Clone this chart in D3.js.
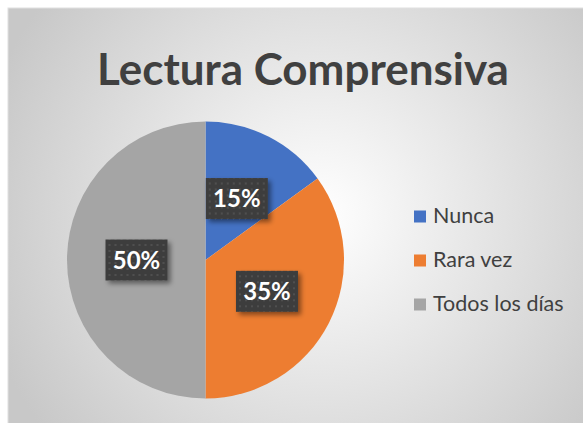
<!DOCTYPE html>
<html>
<head>
<meta charset="utf-8">
<script src="https://cdn.jsdelivr.net/npm/d3@7/dist/d3.min.js"></script>
<style>
  html, body { margin: 0; padding: 0; background: #fff; }
  svg { display: block; }
</style>
</head>
<body>
<svg class="chart"></svg>
<script>
var categories = ["Nunca", "Rara vez", "Todos los días"];
var values = [15, 35, 50];
var colors = ["#4472C4", "#ED7D31", "#A5A5A5"];
var title = "Lectura Comprensiva";

var frameWidth = 583;
var frameHeight = 423;
var boxX = 8, boxY = 8;
var cx = 205.5, cy = 260, radius = 138.5;
var labelRadius = 69;

var svg = d3.select(".chart")
  .attr("width", frameWidth)
  .attr("height", frameHeight)
  .style("font-family", "Lato, 'Open Sans', sans-serif");

var defs = svg.append("defs");

// background gradient
var grad = defs.append("radialGradient")
  .attr("id", "bg")
  .attr("gradientUnits", "userSpaceOnUse")
  .attr("cx", 320).attr("cy", 215).attr("r", 350);
grad.append("stop").attr("offset", "0%").attr("stop-color", "#ffffff");
grad.append("stop").attr("offset", "100%").attr("stop-color", "#c8c8c8");

// dotted pattern for the label boxes
var pat = defs.append("pattern")
  .attr("id", "dots")
  .attr("patternUnits", "userSpaceOnUse")
  .attr("width", 6).attr("height", 6);
pat.append("rect").attr("width", 6).attr("height", 6).attr("fill", "#3d3d3d");
pat.append("rect").attr("x", 2).attr("y", 2).attr("width", 2).attr("height", 2).attr("fill", "#4f4f4f");

var shadow = defs.append("filter")
  .attr("id", "shadow")
  .attr("x", "-30%").attr("y", "-30%").attr("width", "160%").attr("height", "160%");
shadow.append("feDropShadow")
  .attr("dx", 3).attr("dy", 3).attr("stdDeviation", 2.5)
  .attr("flood-color", "#000").attr("flood-opacity", 0.45);

svg.append("rect")
  .attr("x", boxX).attr("y", boxY)
  .attr("width", frameWidth - boxX + 2)
  .attr("height", frameHeight - boxY + 2)
  .attr("fill", "url(#bg)")
  .attr("stroke", "#e0e0e0")
  .attr("stroke-width", 1);

// title, sized to span the same width as the original
var titleText = svg.append("text")
  .attr("x", 303)
  .attr("y", 85)
  .attr("text-anchor", "middle")
  .attr("fill", "#404040")
  .style("font-weight", "bold")
  .style("font-size", "50px")
  .text(title);
var tw = titleText.node().getComputedTextLength();
titleText.style("font-size", (50 * 412 / tw) + "px");

// pie
var pie = d3.pie().sort(null).value(function(d) { return d; });
var arcs = pie(values);
var arc = d3.arc().innerRadius(0).outerRadius(radius);
var labelArc = d3.arc().innerRadius(labelRadius).outerRadius(labelRadius);

var g = svg.append("g").attr("transform", "translate(" + cx + "," + cy + ")");
g.selectAll("path").data(arcs)
  .enter().append("path")
  .attr("d", arc)
  .attr("fill", function(d, i) { return colors[i]; });

var total = d3.sum(values);
var labels = g.selectAll("g.lbl").data(arcs)
  .enter().append("g")
  .attr("class", "lbl")
  .attr("transform", function(d) { return "translate(" + labelArc.centroid(d) + ")"; });
labels.append("rect")
  .attr("x", -31).attr("y", -20.5)
  .attr("width", 62).attr("height", 41)
  .attr("fill", "url(#dots)")
  .attr("filter", "url(#shadow)");
labels.append("text")
  .attr("text-anchor", "middle")
  .attr("dy", "0.36em")
  .attr("fill", "#fff")
  .style("font-weight", "bold")
  .style("font-size", "24px")
  .text(function(d) { return Math.round(d.data / total * 100) + "%"; });

// legend
var legend = svg.append("g").attr("transform", "translate(414,0)");
var legendY = d3.scalePoint().domain(categories).range([216, 304]);
var items = legend.selectAll("g").data(categories)
  .enter().append("g")
  .attr("transform", function(d) { return "translate(0," + legendY(d) + ")"; });
items.append("rect")
  .attr("x", 0).attr("y", -5.5)
  .attr("width", 12).attr("height", 12)
  .attr("fill", function(d, i) { return colors[i]; });
items.append("text")
  .attr("x", 19)
  .attr("y", 7)
  .attr("fill", "#404040")
  .style("font-size", "21.5px")
  .text(function(d) { return d; });
</script>
</body>
</html>
